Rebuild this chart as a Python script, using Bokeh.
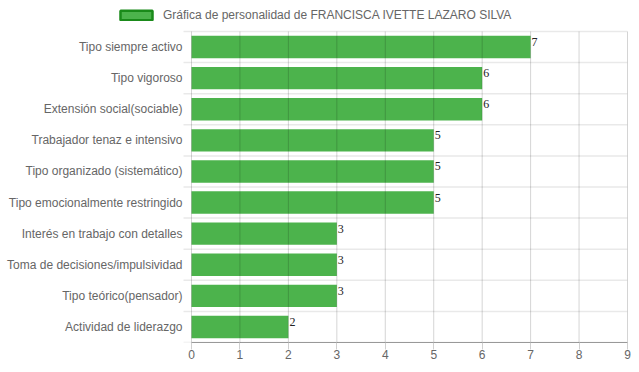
from bokeh.plotting import figure
from bokeh.models import (ColumnDataSource, Range1d, FixedTicker, Legend, LegendItem)
from bokeh.core.properties import value
from bokeh.embed import file_html
from bokeh.resources import INLINE

categories = [
    "Tipo siempre activo",
    "Tipo vigoroso",
    "Extensión social(sociable)",
    "Trabajador tenaz e intensivo",
    "Tipo organizado (sistemático)",
    "Tipo emocionalmente restringido",
    "Interés en trabajo con detalles",
    "Toma de decisiones/impulsividad",
    "Tipo teórico(pensador)",
    "Actividad de liderazgo",
]
values = [7, 6, 6, 5, 5, 5, 3, 3, 3, 2]
x_ticks = [0, 1, 2, 3, 4, 5, 6, 7, 8, 9]
series_name = "Gráfica de personalidad de FRANCISCA IVETTE LAZARO SILVA"

n = len(categories)
x_max = x_ticks[-1]
positions = [n - i - 0.5 for i in range(n)]
boundaries = list(range(n + 1))

FONT = "Liberation Sans"
GREY = "#666666"
BAR = "#4CB34C"
BAR_EDGE = "#1A8A1A"

# layout geometry (pixels)
W, H = 631, 364
BORDER_RIGHT, BORDER_BOTTOM = 4, 22
AXIS_X = 191          # pixel where value 0 sits
TOP_GAP = 31          # space above first category (legend area)
TICK_PX = 8

frame_w = W - BORDER_RIGHT
frame_h = H - BORDER_BOTTOM
px_x = (frame_w - AXIS_X) / x_max
px_y = (frame_h - TOP_GAP) / n
x_start = -AXIS_X / px_x
y_end = n + TOP_GAP / px_y
tick_len = TICK_PX / px_x

src = ColumnDataSource(dict(
    y=positions, v=values, cat=categories, lbl=[str(v) for v in values]
))
hgrid = ColumnDataSource(dict(y=boundaries))
vgrid = ColumnDataSource(dict(x=x_ticks))

p = figure(width=W, height=H, output_backend="svg", toolbar_location=None,
           x_range=Range1d(x_start, x_max), y_range=Range1d(0, y_end),
           min_border_left=0, min_border_right=BORDER_RIGHT, min_border_top=0,
           min_border_bottom=BORDER_BOTTOM, y_axis_location=None)
p.outline_line_color = None
p.background_fill_color = "white"
p.border_fill_color = "white"
p.xgrid.visible = False
p.ygrid.visible = False

# horizontal grid lines at category boundaries (with the tick stub left of axis)
p.segment(x0=-tick_len, x1=x_max, y0="y", y1="y", source=hgrid,
          line_color="#e9e9e9", line_width=1.5)

bars = p.hbar(y="y", right="v", left=0, height=0.72, source=src,
              fill_color=BAR, line_color=None)
legend_r = p.hbar(y="y", right="v", left=0, height=0.72, source=src,
                  fill_color=BAR, line_color=BAR_EDGE, line_width=2.5,
                  visible=False)

# vertical grid lines, drawn over the bars
p.segment(x0="x", x1="x", y0=0, y1=n, source=vgrid,
          line_color="black", line_alpha=0.17, line_width=1, level="overlay")

# value labels
p.text(x="v", y="y", text="lbl", source=src, x_offset=1, y_offset=-9,
       text_baseline="top", text_align="left",
       text_font=value("Liberation Serif"), text_font_size="12px",
       text_color="#222222")

# category labels
p.text(x=0, y="y", text="cat", source=src, x_offset=-9,
       text_baseline="middle", text_align="right",
       text_font=value(FONT), text_font_size="12px", text_color=GREY)

# x axis
p.xaxis.bounds = (0, x_max)
p.xaxis.ticker = FixedTicker(ticks=x_ticks)
p.xaxis.axis_line_color = "#999999"
p.xaxis.major_tick_out = 7
p.xaxis.major_tick_in = 0
p.xaxis.major_tick_line_color = "#d0d0d0"
p.xaxis.minor_tick_line_color = None
p.xaxis.major_label_text_font = FONT
p.xaxis.major_label_text_font_size = "12px"
p.xaxis.major_label_text_color = GREY
p.xaxis.major_label_standoff = 0

legend = Legend(items=[LegendItem(label=series_name, renderers=[legend_r])],
                location=(116, frame_h - 22), orientation="horizontal",
                glyph_width=40, glyph_height=12, padding=0, margin=0,
                label_text_font=FONT, label_text_font_size="12px",
                label_text_color=GREY, label_standoff=7,
                border_line_color=None, background_fill_alpha=0,
                inactive_fill_alpha=0, click_policy="none")
p.add_layout(legend, "center")

open("out.html", "w").write(file_html(p, INLINE))
